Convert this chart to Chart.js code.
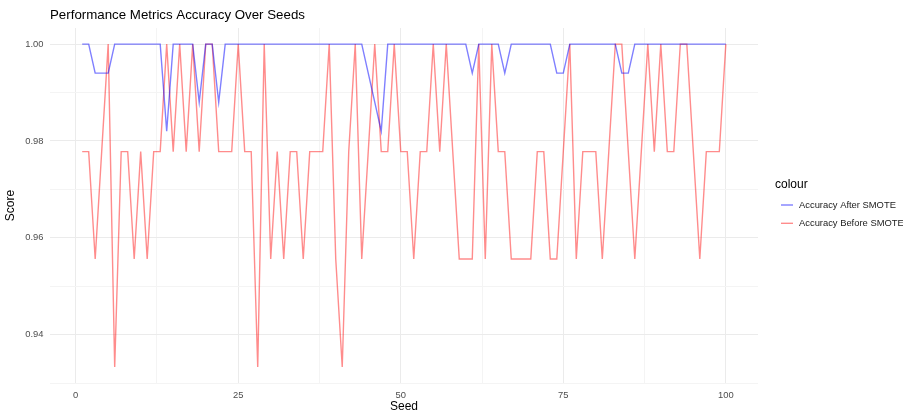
<!DOCTYPE html>
<html lang="en">
<head>
  <meta charset="UTF-8">
  <title>Performance Metrics Accuracy Over Seeds</title>
  <script src="https://cdn.jsdelivr.net/npm/chart.js"></script>
  <style>
    body { margin: 0; background: #fff; }
  </style>
</head>
<body>
  <canvas id="accuracyChart" width="903" height="414"></canvas>

  <script>
    // seeds 1..100
    const seeds = [
      1, 2, 3, 4, 5, 6, 7, 8, 9, 10, 11, 12, 13, 14, 15, 16, 17, 18, 19, 20,
      21, 22, 23, 24, 25, 26, 27, 28, 29, 30, 31, 32, 33, 34, 35, 36, 37, 38, 39, 40,
      41, 42, 43, 44, 45, 46, 47, 48, 49, 50, 51, 52, 53, 54, 55, 56, 57, 58, 59, 60,
      61, 62, 63, 64, 65, 66, 67, 68, 69, 70, 71, 72, 73, 74, 75, 76, 77, 78, 79, 80,
      81, 82, 83, 84, 85, 86, 87, 88, 89, 90, 91, 92, 93, 94, 95, 96, 97, 98, 99, 100
    ];

    const accuracyAfter = [
      1, 1, 0.994, 0.994, 0.994, 1, 1, 1, 1, 1,
      1, 1, 1, 0.982, 1, 1, 1, 1, 0.988, 1,
      1, 0.988, 1, 1, 1, 1, 1, 1, 1, 1,
      1, 1, 1, 1, 1, 1, 1, 1, 1, 1,
      1, 1, 1, 1, 0.994, 0.988, 0.982, 1, 1, 1,
      1, 1, 1, 1, 1, 1, 1, 1, 1, 1,
      0.994, 1, 1, 1, 1, 0.994, 1, 1, 1, 1,
      1, 1, 1, 0.994, 0.994, 1, 1, 1, 1, 1,
      1, 1, 1, 0.994, 0.994, 1, 1, 1, 1, 1,
      1, 1, 1, 1, 1, 1, 1, 1, 1, 1
    ];

    const accuracyBefore = [
      0.9778, 0.9778, 0.9556, 0.9778, 1, 0.9333, 0.9778, 0.9778, 0.9556, 0.9778,
      0.9556, 0.9778, 0.9778, 1, 0.9778, 1, 0.9778, 1, 0.9778, 1,
      1, 0.9778, 0.9778, 0.9778, 1, 0.9778, 0.9778, 0.9333, 1, 0.9556,
      0.9778, 0.9556, 0.9778, 0.9778, 0.9556, 0.9778, 0.9778, 0.9778, 1, 0.9556,
      0.9333, 0.9778, 1, 0.9556, 0.9778, 1, 0.9778, 0.9778, 1, 0.9778,
      0.9778, 0.9556, 0.9778, 0.9778, 1, 0.9778, 1, 0.9778, 0.9556, 0.9556,
      0.9556, 1, 0.9556, 1, 0.9778, 0.9778, 0.9556, 0.9556, 0.9556, 0.9556,
      0.9778, 0.9778, 0.9556, 0.9556, 0.9778, 1, 0.9556, 0.9778, 0.9778, 0.9778,
      0.9556, 0.9778, 1, 1, 0.9778, 0.9556, 0.9778, 1, 0.9778, 1,
      0.9778, 0.9778, 1, 1, 0.9778, 0.9556, 0.9778, 0.9778, 0.9778, 1
    ];

    const seriesNames = ['Accuracy After SMOTE', 'Accuracy Before SMOTE'];
    const seriesColors = ['rgba(0, 0, 255, 0.5)', 'rgba(255, 0, 0, 0.45)'];

    const xMajorTicks = [0, 25, 50, 75, 100];
    const xMinorTicks = [12.5, 37.5, 62.5, 87.5];
    const yMajorTicks = [0.94, 0.96, 0.98, 1.00];
    const yMinorTicks = [0.93, 0.95, 0.97, 0.99];

    const chartTitle = 'Performance Metrics Accuracy Over Seeds';
    const legendTitle = 'colour';
    const fontFamily = '"Liberation Sans", Arial, sans-serif';

    function toPoints(values) {
      return seeds.map((s, i) => ({ x: s, y: values[i] }));
    }

    // title and legend drawn ggplot-style
    const ggDecor = {
      id: 'ggDecor',
      afterDraw(chart) {
        const { ctx, chartArea } = chart;
        ctx.save();
        ctx.textBaseline = 'middle';
        ctx.textAlign = 'left';
        ctx.fillStyle = '#000';
        ctx.font = '13.3px ' + fontFamily;
        ctx.fillText(chartTitle, chartArea.left, 15);

        const lx = chartArea.right + 17;
        ctx.font = '12px ' + fontFamily;
        ctx.fillText(legendTitle, lx, 185);

        chart.data.datasets.forEach((ds, i) => {
          const y = 205 + i * 18.3;
          ctx.strokeStyle = ds.borderColor;
          ctx.lineWidth = 1.4;
          ctx.beginPath();
          ctx.moveTo(lx + 6, y);
          ctx.lineTo(lx + 18, y);
          ctx.stroke();
          ctx.fillStyle = '#222';
          ctx.font = '9.4px ' + fontFamily;
          ctx.fillText(ds.label, lx + 24, y);
        });
        ctx.restore();
      }
    };

    const ctx = document.getElementById('accuracyChart').getContext('2d');
    new Chart(ctx, {
      type: 'line',
      data: {
        datasets: [
          {
            label: seriesNames[0],
            data: toPoints(accuracyAfter),
            borderColor: seriesColors[0],
            borderWidth: 1.4,
            pointRadius: 0,
            tension: 0,
            fill: false
          },
          {
            label: seriesNames[1],
            data: toPoints(accuracyBefore),
            borderColor: seriesColors[1],
            borderWidth: 1.4,
            pointRadius: 0,
            tension: 0,
            fill: false
          }
        ]
      },
      options: {
        responsive: false,
        animation: false,
        layout: { padding: { top: 28, right: 145, bottom: 0, left: 0 } },
        plugins: {
          legend: { display: false },
          title: { display: false },
          tooltip: { enabled: false }
        },
        scales: {
          x: {
            type: 'linear',
            min: -3.95,
            max: 104.95,
            afterBuildTicks: scale => {
              scale.ticks = xMajorTicks.concat(xMinorTicks).sort((a, b) => a - b).map(v => ({ value: v }));
            },
            afterFit: scale => { scale.height = 31; },
            ticks: {
              autoSkip: false,
              maxRotation: 0,
              padding: 7,
              color: '#4D4D4D',
              font: { family: fontFamily, size: 9.4 },
              callback: v => xMajorTicks.includes(v) ? String(v) : ''
            },
            grid: {
              drawTicks: false,
              color: c => xMajorTicks.includes(c.tick.value) ? '#EBEBEB' : '#F4F4F4',
              lineWidth: 1
            },
            border: { display: false },
            title: {
              display: true,
              text: 'Seed',
              color: '#000',
              font: { family: fontFamily, size: 12 },
              padding: { top: 0, bottom: 0 }
            }
          },
          y: {
            min: 0.93,
            max: 1.00333,
            afterBuildTicks: scale => {
              scale.ticks = yMinorTicks.concat(yMajorTicks).sort((a, b) => a - b).map(v => ({ value: v }));
            },
            afterFit: scale => { scale.width = 50; },
            ticks: {
              autoSkip: false,
              padding: 6.5,
              color: '#4D4D4D',
              font: { family: fontFamily, size: 9.4 },
              callback: v => yMajorTicks.includes(v) ? v.toFixed(2) : ''
            },
            grid: {
              drawTicks: false,
              color: c => yMajorTicks.includes(c.tick.value) ? '#EBEBEB' : '#F4F4F4',
              lineWidth: 1
            },
            border: { display: false },
            title: {
              display: true,
              text: 'Score',
              color: '#000',
              font: { family: fontFamily, size: 12 },
              padding: { top: 3, bottom: 0 }
            }
          }
        }
      },
      plugins: [ggDecor]
    });
  </script>
</body>
</html>
